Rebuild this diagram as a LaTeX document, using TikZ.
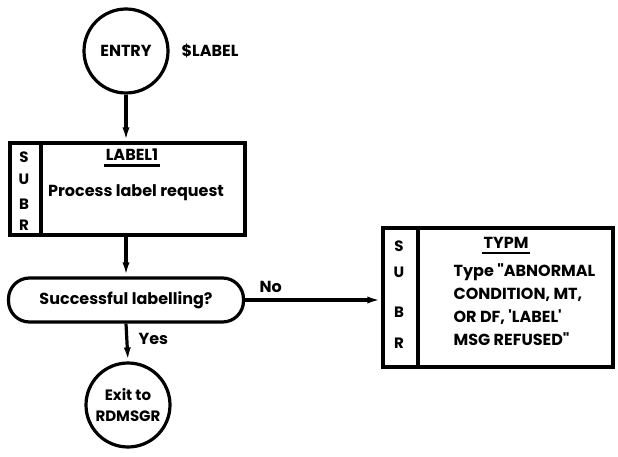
\documentclass[tikz,border=0pt]{standalone}
\usepackage{fontspec}
\setmainfont{Poppins}
\usetikzlibrary{arrows.meta}
\begin{document}
\begin{tikzpicture}[x=1pt,y=-1pt,
  line width=3.2pt,
  every node/.style={font=\bfseries\fontsize{16}{18}\selectfont},
  term/.style={draw,circle,minimum size=84pt,inner sep=0pt,align=center},
  subbox/.style={draw,rectangle,inner sep=0pt},
  decide/.style={draw,rectangle,rounded corners=21pt,minimum width=235pt,minimum height=44pt,inner sep=0pt},
  flow/.style={-{Latex[length=14pt,width=7pt]}},
  letter/.style={inner sep=0pt,font=\bfseries\fontsize{15}{15}\selectfont},
  txt/.style={inner sep=0pt,align=left},
  uline/.style={line width=2.2pt}
]
\useasboundingbox[fill=white] (0,0) rectangle (618,457);

% entry point
\node[term] (entry) at (126,51) {ENTRY};
\node[txt,anchor=west] (ename) at (180,51) {\$LABEL};

% LABEL1 subroutine box
\node[subbox,minimum width=235pt,minimum height=92pt] (lab) at (127.5,189) {};
\coordinate (labsT) at (41,143);
\coordinate (labsB) at (41,235);
\draw (labsT) -- (labsB);
\node[letter] (ls) at (24,157) {S};
\node[letter] (lu) at (24,179) {U};
\node[letter] (lb) at (24,204) {B};
\node[letter] (lr) at (24,225) {R};
\node[txt] (labt) at (132,155) {LABEL1};
\draw[uline] ([yshift=-3pt]labt.south west) -- ([yshift=-3pt]labt.south east);
\node[txt] (labd) at (136,193) {Process label request};

% decision
\node[decide] (dec) at (126,300) {Successful labelling?};

% exit point
\node[term,font=\bfseries\fontsize{15}{21}\selectfont] (exit) at (128,405) {Exit to\\RDMSGR};

% TYPM subroutine box
\node[subbox,minimum width=230pt,minimum height=139pt] (typ) at (498,297.5) {};
\coordinate (typsT) at (418,228);
\coordinate (typsB) at (418,367);
\draw (typsT) -- (typsB);
\node[letter] (ts) at (399,246) {S};
\node[letter] (tu) at (399,272) {U};
\node[letter] (tb) at (399,312) {B};
\node[letter] (tr) at (399,343) {R};
\node[txt] (typt) at (506,243) {TYPM};
\draw[uline] ([yshift=-3pt]typt.south west) -- ([yshift=-3pt]typt.south east);
\node[txt,anchor=north west,font=\bfseries\fontsize{16}{23}\selectfont] (typd) at (452,262)
  {Type \textquotedbl ABNORMAL\\CONDITION, MT,\\OR DF, \textquotesingle LABEL\textquotesingle\\MSG REFUSED\textquotedbl};

% connectors
\draw[flow] (entry.south) -- (entry.south |- lab.north);
\draw[flow] (dec.north |- lab.south) -- (dec.north);
\draw[flow] (dec.south) -- (exit.north);
\draw[flow] (dec.east) -- (typ.west |- dec.east);
\node[txt,anchor=south west] (no) at (258,294) {No};
\node[txt,anchor=west] (yes) at (137,339) {Yes};
\end{tikzpicture}
\end{document}
